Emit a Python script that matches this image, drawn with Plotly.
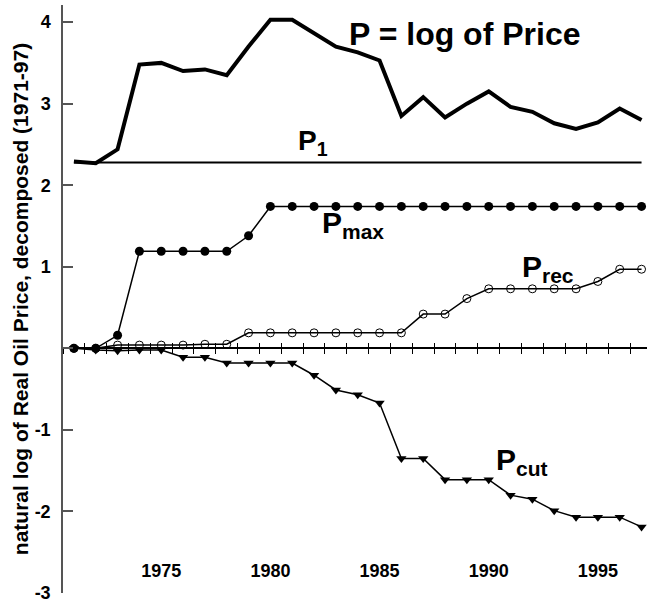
import plotly.graph_objects as go

years = list(range(1971, 1998))
p_log_price = [2.29, 2.27, 2.44, 3.48, 3.50, 3.40, 3.42, 3.35, 3.70, 4.03,
               4.03, 3.87, 3.70, 3.63, 3.53, 2.85, 3.08, 2.83, 3.00, 3.15,
               2.96, 2.90, 2.76, 2.69, 2.77, 2.94, 2.80]
p1_value = 2.28
p_max = [0.0, 0.0, 0.16, 1.19, 1.19, 1.19, 1.19, 1.19, 1.38, 1.74,
         1.74, 1.74, 1.74, 1.74, 1.74, 1.74, 1.74, 1.74, 1.74, 1.74,
         1.74, 1.74, 1.74, 1.74, 1.74, 1.74, 1.74]
p_rec = [0.0, 0.0, 0.04, 0.04, 0.04, 0.04, 0.05, 0.05, 0.19, 0.19,
         0.19, 0.19, 0.19, 0.19, 0.19, 0.19, 0.42, 0.42, 0.61, 0.73,
         0.73, 0.73, 0.73, 0.73, 0.82, 0.97, 0.97]
p_cut = [0.0, -0.02, -0.03, -0.02, -0.02, -0.11, -0.11, -0.18, -0.18, -0.18,
         -0.18, -0.33, -0.51, -0.57, -0.67, -1.35, -1.35, -1.61, -1.61, -1.61,
         -1.80, -1.85, -1.99, -2.07, -2.07, -2.07, -2.19]
year_labels = [1975, 1980, 1985, 1990, 1995]
half_year_ticks = [y + 0.5 for y in range(1970, 1998)]
y_ticks = [-3, -2, -1, 0, 1, 2, 3, 4]
y_tick_text = ["-3", "-2", "-1", "", "1", "2", "3", "4"]

FONT = "Liberation Sans, Arial, sans-serif"
XR = [1970.5, 1997.25]

fig = go.Figure()

fig.add_trace(go.Scatter(x=[years[0], years[-1]], y=[p1_value, p1_value], mode="lines",
                         line=dict(color="black", width=2), hoverinfo="skip", name="P1"))
fig.add_trace(go.Scatter(x=years, y=p_log_price, mode="lines",
                         line=dict(color="black", width=4), name="P"))
fig.add_trace(go.Scatter(x=years, y=p_max, mode="lines+markers",
                         line=dict(color="black", width=1.5),
                         marker=dict(symbol="circle", size=9, color="black"), name="Pmax"))
fig.add_trace(go.Scatter(x=years, y=p_rec, mode="lines+markers",
                         line=dict(color="black", width=1.5),
                         marker=dict(symbol="circle-open", size=8, color="black",
                                     line=dict(width=1)), name="Prec"))
fig.add_trace(go.Scatter(x=years, y=p_cut, mode="lines+markers",
                         line=dict(color="black", width=1.5),
                         marker=dict(symbol="triangle-down", size=9, color="black"), name="Pcut"))
# helper invisible traces so the overlay axes are drawn
fig.add_trace(go.Scatter(x=[XR[0]], y=[0], xaxis="x2", mode="markers",
                         marker=dict(opacity=0), hoverinfo="skip", showlegend=False))
fig.add_trace(go.Scatter(x=[XR[0]], y=[0], xaxis="x3", mode="markers",
                         marker=dict(opacity=0), hoverinfo="skip", showlegend=False))

ymin, ymax = -3, 4.21
zero_pos = (0 - ymin) / (ymax - ymin)

fig.update_layout(
    width=647, height=604,
    margin=dict(l=63, r=0, t=5, b=11, autoexpand=False),
    paper_bgcolor="white", plot_bgcolor="white",
    showlegend=False,
    font=dict(family=FONT, color="black", size=18, weight="bold"),
    xaxis=dict(range=XR, anchor="free", position=zero_pos, automargin=False,
               showline=True, linecolor="black", linewidth=1.5,
               tickvals=half_year_ticks, ticks="outside", ticklen=5,
               tickwidth=1, tickcolor="black", showticklabels=False,
               showgrid=False, zeroline=False),
    xaxis2=dict(range=XR, overlaying="x", anchor="free", position=zero_pos,
                automargin=False,
                showline=False, tickvals=half_year_ticks, ticks="inside",
                ticklen=5, tickwidth=1, tickcolor="black",
                showticklabels=False, showgrid=False, zeroline=False),
    xaxis3=dict(range=XR, overlaying="x", anchor="free", position=0.060,
                automargin=False,
                showline=False, tickvals=year_labels,
                ticktext=[str(v) for v in year_labels], ticks="",
                tickfont=dict(family=FONT, size=18, weight="bold", color="black"),
                showgrid=False, zeroline=False),
    yaxis=dict(range=[ymin, ymax], automargin=False,
               showline=True, linecolor="#555555", linewidth=1.5,
               tickvals=y_ticks, ticktext=y_tick_text, ticks="inside", ticklen=10,
               tickcolor="#555555", tickwidth=1.5,
               tickfont=dict(family=FONT, size=18, weight="bold", color="black"),
               ticklabelstandoff=7,
               showgrid=False, zeroline=False,
               title=dict(text="natural log of Real Oil Price, decomposed (1971-97)",
                          font=dict(family=FONT, size=21, weight="bold", color="black"),
                          standoff=0)),
)

ann_font = dict(family=FONT, size=30, weight="bold", color="black")
fig.add_annotation(x=1988.9, y=3.85, text="P = log of Price", showarrow=False,
                   xanchor="center", yanchor="middle",
                   font=dict(family=FONT, size=32, weight="bold", color="black"))
fig.add_annotation(x=1981.15, y=2.52, text="P<sub>1</sub>", showarrow=False,
                   xanchor="left", yanchor="middle",
                   font=dict(family=FONT, size=28, weight="bold", color="black"))
fig.add_annotation(x=1982.25, y=1.52, text="P<sub>max</sub>", showarrow=False,
                   xanchor="left", yanchor="middle", font=ann_font)
fig.add_annotation(x=1991.45, y=0.98, text="P<sub>rec</sub>", showarrow=False,
                   xanchor="left", yanchor="middle", font=ann_font)
fig.add_annotation(x=1990.25, y=-1.39, text="P<sub>cut</sub>", showarrow=False,
                   xanchor="left", yanchor="middle", font=ann_font)

fig.write_html("out.html", config={"displayModeBar": False},
               post_script="document.body.style.margin='0';document.body.style.padding='0';")
